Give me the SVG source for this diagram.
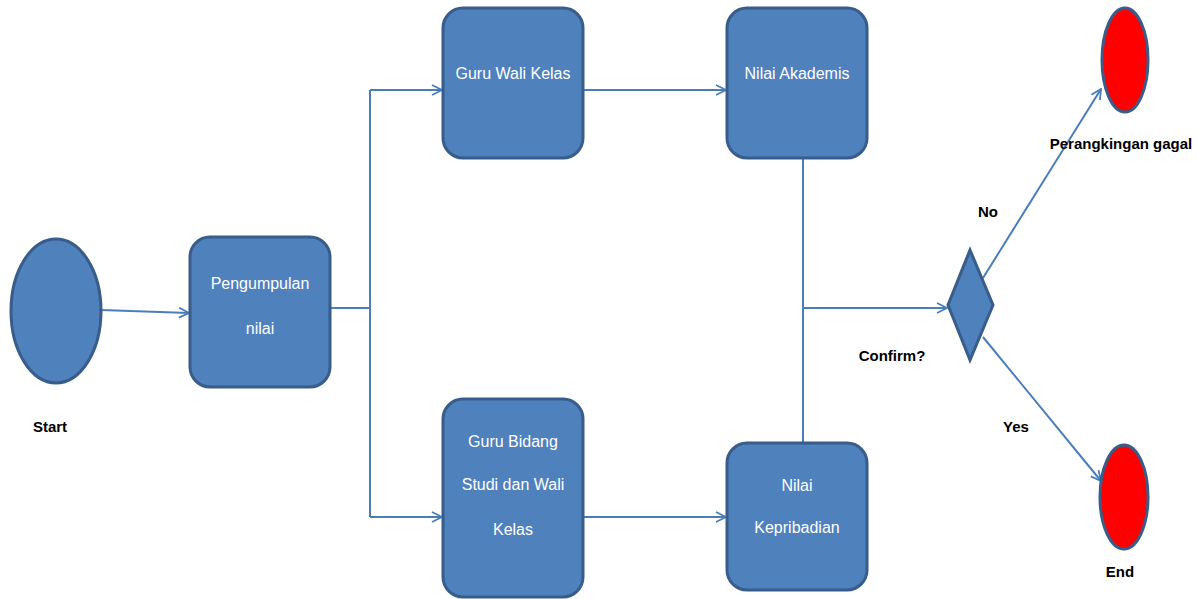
<svg xmlns="http://www.w3.org/2000/svg" width="1197" height="599" viewBox="0 0 1197 599">
<style>
.box{fill:#4F81BD;stroke:#385D8A;stroke-width:3}
.red{fill:#FF0000;stroke:#385D8A;stroke-width:3}
.bt{font-family:"Liberation Sans",Arial,sans-serif;font-size:16px;fill:#FFFFFF;text-anchor:middle}
.lb{font-family:"Liberation Sans",Arial,sans-serif;font-size:15px;font-weight:bold;fill:#000000;text-anchor:middle}
.cn{fill:none;stroke:#4A7EBB;stroke-width:2}
</style>
<defs>
<marker id="ah" viewBox="0 0 12 12" refX="11" refY="6" markerWidth="12" markerHeight="12" markerUnits="userSpaceOnUse" orient="auto">
<path d="M1,1 L11,6 L1,11" fill="none" stroke="#4A7EBB" stroke-width="1.8"/>
</marker>
</defs>
<rect width="1197" height="599" fill="#FFFFFF"/>
<g id="connectors">
<line class="cn" x1="101" y1="310" x2="189" y2="313" marker-end="url(#ah)"/>
<polyline class="cn" points="330,308 370,308"/>
<polyline class="cn" points="370,90 370,517"/>
<line class="cn" x1="370" y1="90" x2="442" y2="90" marker-end="url(#ah)"/>
<line class="cn" x1="370" y1="517" x2="442" y2="517" marker-end="url(#ah)"/>
<line class="cn" x1="584" y1="90" x2="726" y2="90" marker-end="url(#ah)"/>
<line class="cn" x1="584" y1="517" x2="726" y2="517" marker-end="url(#ah)"/>
<line class="cn" x1="803" y1="159" x2="803" y2="443"/>
<line class="cn" x1="803" y1="308" x2="947" y2="308" marker-end="url(#ah)"/>
<line class="cn" x1="983" y1="278" x2="1101" y2="89" marker-end="url(#ah)"/>
<line class="cn" x1="983" y1="337" x2="1101" y2="481" marker-end="url(#ah)"/>
</g>
<g id="start">
<ellipse class="box" cx="56" cy="311" rx="45" ry="72"/>
<text class="lb" x="50" y="432">Start</text>
</g>
<g id="pengumpulan">
<rect class="box" x="190" y="237" width="140" height="150" rx="20"/>
<text class="bt" x="260" y="289">Pengumpulan</text>
<text class="bt" x="260" y="334">nilai</text>
</g>
<g id="guruwali">
<rect class="box" x="443" y="8" width="140" height="150" rx="20"/>
<text class="bt" x="513" y="79">Guru Wali Kelas</text>
</g>
<g id="akademis">
<rect class="box" x="727" y="8" width="140" height="150" rx="20"/>
<text class="bt" x="797" y="79">Nilai Akademis</text>
</g>
<g id="gurubidang">
<rect class="box" x="443" y="399" width="140" height="198" rx="20"/>
<text class="bt" x="513" y="447">Guru Bidang</text>
<text class="bt" x="513" y="490">Studi dan Wali</text>
<text class="bt" x="513" y="535">Kelas</text>
</g>
<g id="kepribadian">
<rect class="box" x="727" y="443" width="140" height="147" rx="20"/>
<text class="bt" x="797" y="491">Nilai</text>
<text class="bt" x="797" y="533">Kepribadian</text>
</g>
<g id="decision">
<polygon class="box" points="970,250 993,305 970,360 948,305" stroke-width="2"/>
<text class="lb" x="892" y="361">Confirm?</text>
<text class="lb" x="988" y="217">No</text>
<text class="lb" x="1016" y="432">Yes</text>
</g>
<g id="gagal">
<ellipse class="red" cx="1125" cy="60" rx="23" ry="52"/>
<text class="lb" x="1121" y="149" font-size="13">Perangkingan gagal</text>
</g>
<g id="end">
<ellipse class="red" cx="1124" cy="497" rx="24" ry="52"/>
<text class="lb" x="1120" y="577">End</text>
</g>
</svg>
